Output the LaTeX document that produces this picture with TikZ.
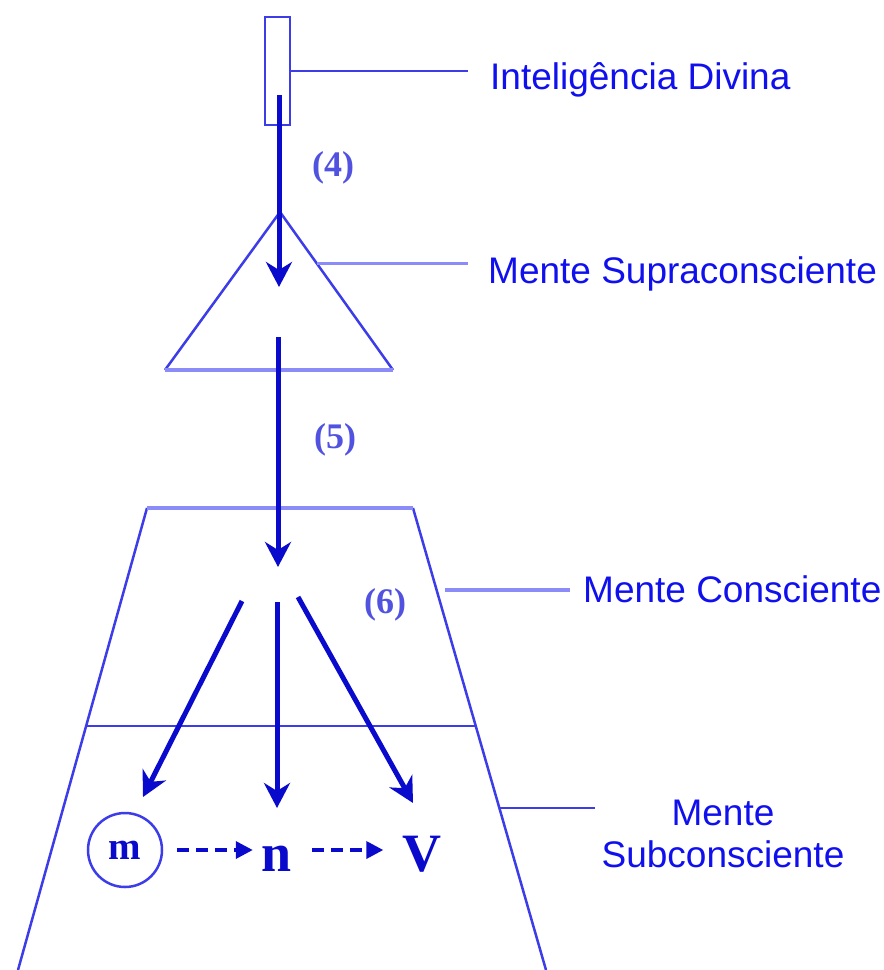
\documentclass[tikz,border=0pt]{standalone}
\usepackage{fontspec}
\setmainfont{Liberation Serif}
\newfontfamily\labelfont{Liberation Sans}
\usetikzlibrary{arrows.meta, positioning, calc}
\definecolor{ink}   {HTML}{1010EE}
\definecolor{flowc} {HTML}{0A0ACC}
\definecolor{edge}  {HTML}{3C3CE8}
\definecolor{pale}  {HTML}{8C8CF8}
\definecolor{num}   {HTML}{5252E0}

\begin{document}
\begin{tikzpicture}[x=1pt, y=-1pt,
    sidetext/.style={font=\labelfont\fontsize{37}{42}\selectfont, text=ink, inner sep=0pt, align=center},
    tag/.style={font=\fontsize{36}{40}\selectfont\bfseries, text=num},
    flow/.style={draw=flowc, line width=5pt, -{Stealth[length=25pt, width=26pt, inset=8pt]}},
    hint/.style={draw=flowc, line width=3.5pt, dash pattern=on 12pt off 7pt, -{Triangle[length=17pt, width=17pt]}},
    rim/.style={draw=edge, line width=2.5pt}]
      \useasboundingbox (0,0) rectangle (884,970);

      % the three minds
      \node[rim, minimum width=25pt, minimum height=108pt, inner sep=0pt] (divine) at (277.5,71) {};
      \coordinate (sapex) at (280,212);
      \coordinate (sleft) at (165,370);
      \coordinate (sright) at (393,370);
      \draw[rim] (sleft) -- (sapex) -- (sright);
      \draw[draw=pale, line width=4pt] (sleft) -- (sright);
      \coordinate (ctl) at (147,508);
      \coordinate (ctr) at (413,508);
      \coordinate (cbl) at (18,970);
      \coordinate (cbr) at (546,970);
      \draw[rim] (cbl) -- (ctl);
      \draw[rim] (ctr) -- (cbr);
      \draw[draw=pale, line width=4pt] (ctl) -- (ctr);
      \draw[rim] ($(ctl)!0.472!(cbl)$) -- ($(ctr)!0.472!(cbr)$);

      % labels
      \node[sidetext, anchor=base west] (divinelabel) at (490,89) {Inteligência Divina};
      \node[sidetext, anchor=base west] (supralabel) at (488,283) {Mente Supraconsciente};
      \node[sidetext, anchor=base west] (consclabel) at (583,602) {Mente Consciente};
      \node[sidetext] (subclabel) at (723,834) {Mente\\Subconsciente};
      \draw[rim, shorten >=22pt] (divine.east) -- (divine.east -| divinelabel.west);
      \draw[draw=pale, line width=3pt, shorten >=20pt] ($(sapex)!0.323!(sright)$) coordinate (sjoin) -- (sjoin -| supralabel.west);
      \coordinate (cjoin) at (445,590);
      \draw[draw=pale, line width=4pt, shorten >=13pt] (cjoin) -- (cjoin -| consclabel.west);
      \draw[rim, shorten >=6pt] ($(ctr)!0.649!(cbr)$) coordinate (ujoin) -- (ujoin -| subclabel.west);

      \node[tag] (tagfour) at (333,168) {(4)};
      \node[tag] (tagfive) at (335,440) {(5)};
      \node[tag] (tagsix) at (385,605) {(6)};

      % flows
      \coordinate (spring) at (279,95);
      \coordinate (sdrop) at (279,287);
      \coordinate (sout) at (278,337);
      \coordinate (cdrop) at (278,567);
      \draw[flow] (spring) -- (sdrop);
      \draw[flow] (sout) -- (cdrop);
      \coordinate (fanl) at (242,601);
      \coordinate (fanm) at (277,602);
      \coordinate (fanr) at (298,597);
      \coordinate (endl) at (143,797);
      \coordinate (endm) at (277,808);
      \coordinate (endr) at (413,803);
      \draw[flow] (fanl) -- (endl);
      \draw[flow] (fanm) -- (endm);
      \draw[flow] (fanr) -- (endr);

      \node[circle, draw=edge, line width=2.5pt, minimum size=74pt, inner sep=0pt, text=flowc, font=\fontsize{39}{42}\selectfont\bfseries] (mnode) at (125,850) {m};
      \node[anchor=base, inner sep=0pt, text=flowc, font=\fontsize{54}{60}\selectfont\bfseries] (nnode) at (277,871) {n};
      \node[anchor=base, inner sep=0pt, text=flowc, font=\fontsize{54}{60}\selectfont\bfseries] (vnode) at (422,871) {V};
      \draw[hint, shorten <=14pt, shorten >=9pt] (mnode.east) -- (mnode.east -| nnode.west);
      \draw[hint, shorten <=20pt, shorten >=19pt] (nnode.east |- mnode.east) -- (vnode.west |- mnode.east);
    \end{tikzpicture}
\end{document}
